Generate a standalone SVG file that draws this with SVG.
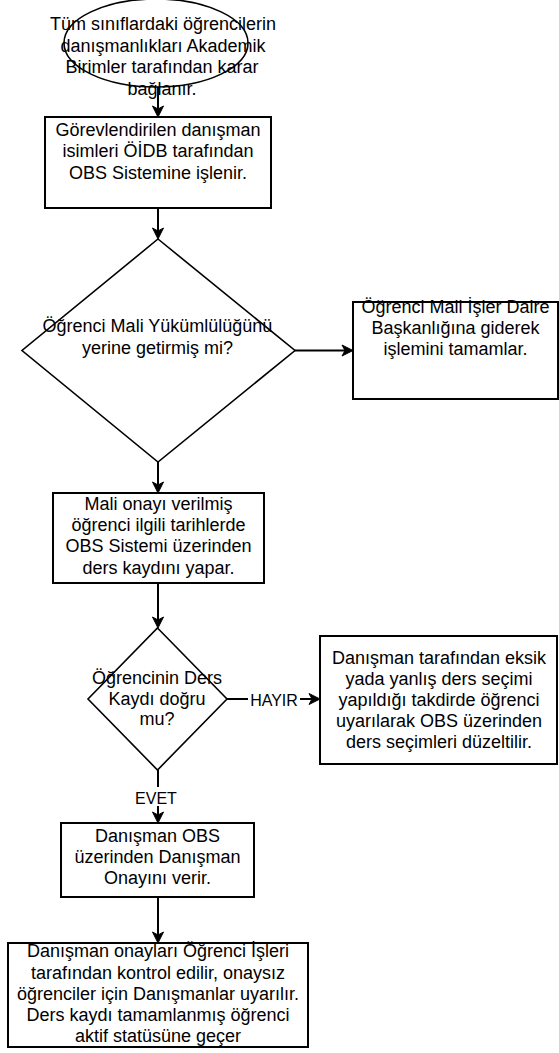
<svg xmlns="http://www.w3.org/2000/svg" width="559" height="1053" viewBox="0 0 559 1053">
<style>
.shape{fill:#ffffff;stroke:#000000;stroke-width:2}
.dia{fill:#ffffff;stroke:#000000;stroke-width:1.6}
.t{font-family:"Liberation Sans",Arial,sans-serif;font-size:18px;fill:#000000;text-anchor:middle}
.lbl{font-family:"Liberation Sans",Arial,sans-serif;font-size:16px;fill:#000000;text-anchor:middle}
.edge{fill:none;stroke:#000000;stroke-width:2;marker-end:url(#arr)}
</style>
<defs>
<marker id="arr" markerUnits="userSpaceOnUse" viewBox="-12 -7 14 14" markerWidth="14" markerHeight="14" refX="-8" refY="0" orient="auto">
<path d="M0,0 L-11,-5.5 L-8,0 L-11,5.5 Z" fill="#000000" stroke="#000000" stroke-width="1"/>
</marker>
</defs>
<rect x="0" y="0" width="559" height="1053" fill="#ffffff"/>
<g id="connectors">
<line class="edge" x1="158" y1="87" x2="158" y2="109"/>
<line class="edge" x1="158" y1="208" x2="158" y2="231"/>
<line class="edge" x1="295" y1="350.5" x2="345" y2="350.5"/>
<line class="edge" x1="158" y1="462" x2="158" y2="485"/>
<line class="edge" x1="158" y1="583" x2="158" y2="620"/>
<line class="edge" x1="227" y1="699" x2="312" y2="699"/>
<line class="edge" x1="158" y1="770" x2="158" y2="815"/>
<line class="edge" x1="158" y1="897" x2="158" y2="935"/>
<g id="label-hayir">
<rect x="248" y="690" width="52" height="18" fill="#ffffff"/>
<text class="lbl" x="274" y="705.5">HAYIR</text>
</g>
<g id="label-evet">
<rect x="135" y="787" width="43" height="19" fill="#ffffff"/>
<text class="lbl" x="156" y="803.5">EVET</text>
</g>
</g>
<g id="start">
<ellipse class="dia" cx="156" cy="43" rx="92" ry="44"/>
<text class="t" x="163" y="30">Tüm sınıflardaki öğrencilerin</text>
<text class="t" x="163" y="51.5">danışmanlıkları Akademik</text>
<text class="t" x="162" y="73">Birimler tarafından karar</text>
<text class="t" x="162" y="94.5">bağlanır.</text>
</g>
<g id="assign">
<rect class="shape" x="45" y="117" width="226" height="91"/>
<text class="t" x="158" y="135.5">Görevlendirilen danışman</text>
<text class="t" x="158" y="157">isimleri ÖİDB tarafından</text>
<text class="t" x="158" y="178.5">OBS Sistemine işlenir.</text>
</g>
<g id="decision-finance">
<polygon class="dia" points="158,239 295,350.5 158,462 22,350.5"/>
<text class="t" x="157.5" y="332">Öğrenci Mali Yükümlülüğünü</text>
<text class="t" x="157.5" y="353.5">yerine getirmiş mi?</text>
</g>
<g id="finance-office">
<rect class="shape" x="353" y="302" width="205" height="97"/>
<text class="t" x="455.5" y="313">Öğrenci Mali İşler Daire</text>
<text class="t" x="455.5" y="334">Başkanlığına giderek</text>
<text class="t" x="455.5" y="355">işlemini tamamlar.</text>
</g>
<g id="registration">
<rect class="shape" x="53" y="493" width="211" height="90"/>
<text class="t" x="158.5" y="509.5">Mali onayı verilmiş</text>
<text class="t" x="158.5" y="530.5">öğrenci ilgili tarihlerde</text>
<text class="t" x="158.5" y="552">OBS Sistemi üzerinden</text>
<text class="t" x="158.5" y="573.5">ders kaydını yapar.</text>
</g>
<g id="decision-course">
<polygon class="dia" points="157.5,628 227,699 157.5,770 88,699"/>
<text class="t" x="157" y="683.5">Öğrencinin Ders</text>
<text class="t" x="157" y="704.5">Kaydı doğru</text>
<text class="t" x="157" y="725">mu?</text>
</g>
<g id="correction">
<rect class="shape" x="320" y="636" width="237" height="128"/>
<text class="t" x="439" y="664">Danışman tarafından eksik</text>
<text class="t" x="439" y="685">yada yanlış ders seçimi</text>
<text class="t" x="439" y="706">yapıldığı takdirde öğrenci</text>
<text class="t" x="439" y="727">uyarılarak OBS üzerinden</text>
<text class="t" x="439" y="748">ders seçimleri düzeltilir.</text>
</g>
<g id="advisor-approval">
<rect class="shape" x="61" y="823" width="193" height="74"/>
<text class="t" x="157.5" y="842">Danışman OBS</text>
<text class="t" x="157.5" y="863">üzerinden Danışman</text>
<text class="t" x="157.5" y="884">Onayını verir.</text>
</g>
<g id="final-check">
<rect class="shape" x="8" y="943" width="300" height="104"/>
<text class="t" x="158" y="957">Danışman onayları Öğrenci İşleri</text>
<text class="t" x="158" y="978.5">tarafından kontrol edilir, onaysız</text>
<text class="t" x="158" y="999.5">öğrenciler için Danışmanlar uyarılır.</text>
<text class="t" x="158" y="1020.5">Ders kaydı tamamlanmış öğrenci</text>
<text class="t" x="158" y="1041.5">aktif statüsüne geçer</text>
</g>
</svg>
